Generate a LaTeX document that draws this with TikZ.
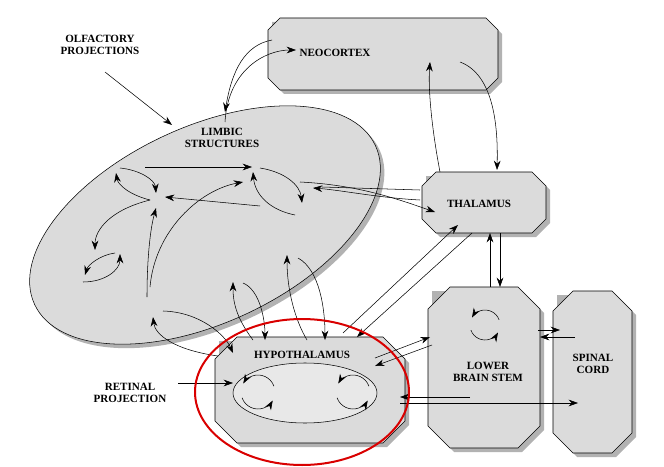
\documentclass[tikz,border=0pt]{standalone}
\usepackage{fontspec}
\setmainfont{Liberation Serif}
\usetikzlibrary{arrows.meta}
\tikzset{
  lbl/.style={font=\bfseries\fontsize{8.3}{9.3}\selectfont, align=center, inner sep=1pt},
  ar/.style={-{Stealth[length=7pt,width=5pt]}, thin},
  boxfill/.style={fill=gray!28, draw=black, thin},
  shadowfill/.style={fill=gray!60, draw=none}
}
\newcommand{\octbox}[5]{%
  \fill[shadowfill] ({#1+4},{#2+4}) -- ({#3-#5+4},{#2+4}) -- ({#3+4},{#2+#5+4}) -- ({#3+4},{#4-#5+4}) -- ({#3-#5+4},{#4+4}) -- ({#1+#5+4},{#4+4}) -- ({#1+4},{#4-#5+4}) -- ({#1+4},{#2+#5+4}) -- cycle;
  \draw[boxfill] ({#1+#5},#2) -- ({#3-#5},#2) -- (#3,{#2+#5}) -- (#3,{#4-#5}) -- ({#3-#5},#4) -- ({#1+#5},#4) -- (#1,{#4-#5}) -- (#1,{#2+#5}) -- cycle;}
\newcommand{\loopar}[3]{%
  \draw[ar] ([shift={(160:#3)}]#1,#2) arc[start angle=160,end angle=30,radius=#3];
  \draw[ar] ([shift={(-20:#3)}]#1,#2) arc[start angle=-20,end angle=-150,radius=#3];}
\begin{document}
\begin{tikzpicture}[x=0.75pt,y=-0.75pt]
\useasboundingbox (0,0) rectangle (664,467);
% limbic ellipse
\fill[gray!60, rotate around={25:(209,229)}] (209,229) ellipse (188 and 98);
\draw[boxfill, rotate around={25:(205,225)}] (205,225) ellipse (188 and 98);
% boxes
\octbox{268}{18}{498}{90}{12}
\octbox{422}{172}{546}{233}{14}
\octbox{428}{287}{540}{448}{22}
\octbox{553}{291}{632}{453}{20}
\octbox{215}{337}{405}{443}{22}
\draw[thin, fill=gray!18] (305,393) ellipse (72 and 30);
% labels
\node[lbl] (neo) at (335,53) {NEOCORTEX};
\node[lbl] (thal) at (479,204) {THALAMUS};
\node[lbl] (lbs) at (488,372) {LOWER\\BRAIN STEM};
\node[lbl] (sc) at (593,364) {SPINAL\\CORD};
\node[lbl] (hyp) at (302,355) {HYPOTHALAMUS};
\node[lbl] (lim) at (222,138) {LIMBIC\\STRUCTURES};
\node[lbl] (olf) at (100,45) {OLFACTORY\\PROJECTIONS};
\node[lbl] (ret) at (130,393) {RETINAL\\PROJECTION};
% external arrows
\draw[ar] (105,72) -- (172,125);
\draw[ar] (178,383) -- (233,383);
\draw[ar] (225,122) .. controls (228,70) and (265,50) .. (296,50);
\draw[ar] (272,40) .. controls (245,45) and (232,70) .. (225,112);
\draw[ar] (440,172) .. controls (432,130) and (428,90) .. (430,62);
\draw[ar] (460,62) .. controls (495,75) and (498,130) .. (497,170);
\draw[thin] (322,187) -- (420,190);
\draw[ar] (420,200) .. controls (380,198) and (340,190) .. (313,188);
\draw[ar] (300,182) .. controls (360,185) and (400,200) .. (435,212);
\draw[ar] (472,233) -- (357,337);
\draw[ar] (343,333) -- (458,225);
\draw[ar] (490,287) -- (490,233);
\draw[ar] (500,233) -- (500,287);
\draw[ar] (375,358) -- (430,337);
\draw[ar] (432,345) -- (375,366);
\draw[ar] (538,330) -- (560,330);
\draw[ar] (575,337) -- (540,337);
\draw[ar] (400,403) -- (578,403);
\draw[ar] (470,397) -- (400,397);
% limbic internal arrows
\draw[ar] (145,167) -- (252,167);
\draw[ar] (120,168) .. controls (140,170) and (155,180) .. (156,193);
\draw[ar] (150,200) .. controls (130,195) and (118,185) .. (116,173);
\draw[ar] (150,200) .. controls (110,210) and (95,230) .. (95,250);
\draw[ar] (83,282) .. controls (105,282) and (120,270) .. (120,254);
\draw[ar] (115,253) .. controls (100,255) and (88,265) .. (85,275);
\draw[ar] (260,206) -- (165,197);
\draw[ar] (147,297) .. controls (147,260) and (150,230) .. (156,208);
\draw[ar] (150,287) .. controls (155,230) and (200,190) .. (243,182);
\draw[ar] (260,168) .. controls (285,172) and (300,185) .. (302,203);
\draw[ar] (295,215) .. controls (270,210) and (255,195) .. (253,172);
\draw[ar] (307,340) .. controls (295,320) and (287,290) .. (287,255);
\draw[ar] (298,258) .. controls (320,270) and (325,310) .. (325,340);
\draw[ar] (243,283) .. controls (260,290) and (265,320) .. (265,340);
\draw[ar] (253,340) .. controls (238,320) and (233,305) .. (233,282);
\draw[ar] (163,311) .. controls (200,312) and (225,335) .. (233,353);
\draw[ar] (218,356) .. controls (175,350) and (155,335) .. (153,317);
% loops
\loopar{258}{392}{17}
\loopar{353}{392}{17}
\loopar{485}{325}{15}
% red highlight
\draw[red!85!black, line width=1.5pt] (302,392) ellipse (107 and 73);
\end{tikzpicture}
\end{document}
